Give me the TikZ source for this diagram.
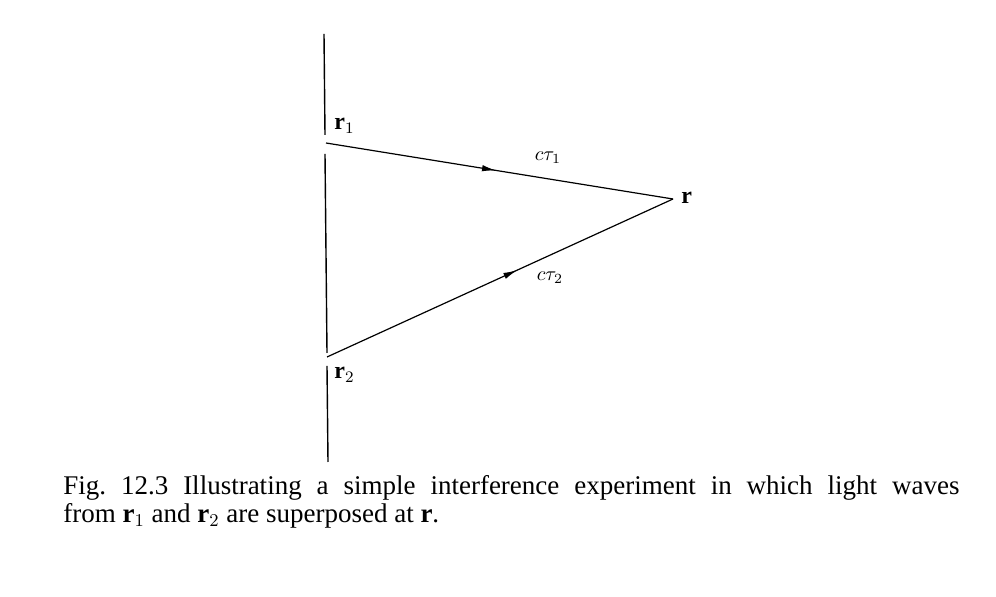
\documentclass[tikz,border=0pt]{standalone}
\usepackage{fontspec}
\setmainfont{Liberation Serif}
\usetikzlibrary{arrows.meta}
\usetikzlibrary{decorations.markings}
\begin{document}
\begin{tikzpicture}[x=0.5pt,y=-0.5pt]
	\tikzstyle{wall}=[line width=0.7pt]
	\tikzstyle{ray}=[line width=0.6pt,postaction={decorate},decoration={markings,mark=at position #1 with {\arrow{Latex[length=7pt,width=3.2pt]}}}]
	\tikzstyle{lbl}=[inner sep=0pt,font=\fontsize{12}{14}\selectfont]
	\tikzstyle{path lbl}=[inner sep=0pt,font=\fontsize{10}{12}\selectfont]
	\useasboundingbox (0,0) rectangle (996,597);
	% screen with two pinholes
	\coordinate (wtop) at (324,34);
	\coordinate (wa) at (325,135);
	\coordinate (wb) at (325,154);
	\coordinate (wc) at (327,353);
	\coordinate (wd) at (327,366);
	\coordinate (wbot) at (328,462);
	\draw[wall] (wtop) -- (wa);
	\draw[wall] (wb) -- (wc);
	\draw[wall] (wd) -- (wbot);
	% sources and observation point
	\coordinate (r1) at (326,143);
	\coordinate (r2) at (327,357);
	\coordinate (r) at (673,199);
	\draw[ray=0.49] (r1) -- (r);
	\draw[ray=0.55] (r2) -- (r);
	\node[lbl,anchor=west] (r1lbl) at (334,126) {$\mathbf{r}_1$};
	\node[lbl,anchor=west] (r2lbl) at (334,375) {$\mathbf{r}_2$};
	\node[lbl,anchor=west] (rlbl) at (681,198) {$\mathbf{r}$};
	\node[path lbl] (ct1) at (548,158) {$c\tau_1$};
	\node[path lbl] (ct2) at (550,278) {$c\tau_2$};
	% caption
	\node[anchor=north west,inner sep=0pt,text width=448pt,align=justify,font=\fontsize{13.5}{14}\selectfont] (cap) at (63,475)
		{\noindent Fig.~12.3 Illustrating a simple interference experiment in which light waves\linebreak
		from $\mathbf{r}_1$ and $\mathbf{r}_2$ are superposed at $\mathbf{r}$.};
\end{tikzpicture}
\end{document}
